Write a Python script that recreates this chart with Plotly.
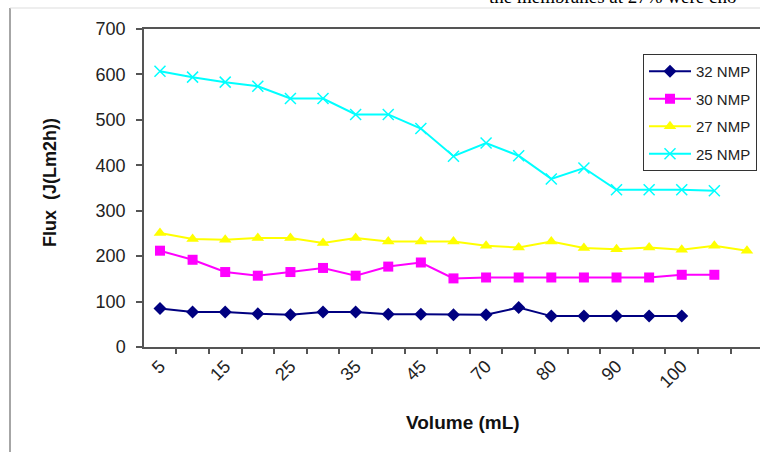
import plotly.graph_objects as go

# ---- data ----
tick_labels = ["5", "15", "25", "35", "45", "70", "80", "90", "100"]
n_categories = 19

nmp32 = [85, 77, 77, 73, 71, 77, 77, 72, 72, 71, 71, 87, 68, 68, 68, 68, 68]
nmp30 = [212, 192, 165, 157, 165, 174, 157, 177, 186, 151, 153, 153, 153, 153, 153, 153, 159, 159]
nmp27 = [251, 238, 236, 240, 240, 229, 240, 232, 232, 232, 223, 219, 232, 218, 215, 219, 214, 223, 212]
nmp25 = [607, 594, 583, 574, 547, 547, 512, 512, 481, 420, 449, 421, 370, 394, 346, 346, 346, 344]

series = [
    ("32 NMP", nmp32, "#000080", "diamond", 10),
    ("30 NMP", nmp30, "#FF00FF", "square", 10),
    ("27 NMP", nmp27, "#FFFF00", "triangle-up", 11),
    ("25 NMP", nmp25, "#00FFFF", "x-thin", 11),
]

FONT = "Arial, 'Liberation Sans', sans-serif"

fig = go.Figure()
for i, (name, vals, color, sym, size) in enumerate(series):
    marker = dict(symbol=sym, size=size, color=color)
    if sym == "x-thin":
        marker["line"] = dict(color=color, width=1.5)
    fig.add_trace(go.Scatter(
        x=list(range(len(vals))), y=vals, name=name, mode="lines+markers",
        line=dict(color=color, width=2), marker=marker, legendgroup=f"g{i}",
    ))

W, H = 760, 452
L, R, T, B = 144, 0, 29, 105
pw, ph = W - L - R, H - T - B

def px_x(p):
    return (p - L) / pw

def px_y(p):
    return 1 - (p - T) / ph

fig.update_layout(
    width=W, height=H,
    margin=dict(l=L, r=R, t=T, b=B),
    paper_bgcolor="white", plot_bgcolor="white",
    font=dict(family=FONT, size=18, color="#000"),
    showlegend=True,
    legend=dict(
        x=px_x(643), y=px_y(54), xanchor="left", yanchor="top",
        bordercolor="#333", borderwidth=1, bgcolor="white",
        font=dict(size=15, color="#222"), tracegroupgap=5,
        traceorder="grouped", itemwidth=42,
    ),
    xaxis=dict(
        range=[-0.49, 18.4], showgrid=False, zeroline=False,
        tickmode="array", tickvals=list(range(0, 2 * len(tick_labels), 2)),
        ticktext=tick_labels, tickangle=-45, ticks="", ticklen=0,
        tickfont=dict(size=18, color="#222"),
        showline=True, linecolor="#555", linewidth=1.5, mirror=True,
        minor=dict(tickvals=[k - 0.5 for k in range(n_categories + 1)],
                   ticks="outside", ticklen=5, tickcolor="#555", tickwidth=1.5),
    ),
    yaxis=dict(
        range=[0, 700], tickmode="linear", tick0=0, dtick=100,
        showgrid=False, zeroline=False,
        ticks="outside", ticklen=6, tickcolor="#555", tickwidth=1.5,
        tickfont=dict(size=18, color="#222"), ticklabelstandoff=7,
        showline=True, linecolor="#555", linewidth=1.5, mirror=False,
    ),
    annotations=[
        dict(text="<b>Volume (mL)</b>", xref="paper", yref="paper",
             x=px_x(463), y=px_y(422), xanchor="center", yanchor="middle",
             showarrow=False, font=dict(size=19, color="#111")),
        dict(text="<b>Flux  (J(Lm2h))</b>", xref="paper", yref="paper",
             x=px_x(50), y=px_y(183), xanchor="center", yanchor="middle",
             textangle=-90, showarrow=False, font=dict(size=18, color="#111")),
        dict(text="the membranes at 27% were cho", xref="paper", yref="paper",
             x=px_x(487), y=px_y(9), xanchor="left", yanchor="bottom",
             showarrow=False,
             font=dict(family="'Liberation Serif', 'Times New Roman', serif", size=19, color="#000")),
    ],
    shapes=[
        dict(type="line", xref="paper", yref="paper",
             x0=px_x(10), x1=px_x(10), y0=px_y(8), y1=px_y(452),
             line=dict(color="#888", width=1.5)),
        dict(type="line", xref="paper", yref="paper",
             x0=px_x(10), x1=px_x(760), y0=px_y(8), y1=px_y(8),
             line=dict(color="#ddd", width=1)),
    ],
)

fig.write_html("out.html", config={"displayModeBar": False},
               post_script="document.body.style.margin='0';")
